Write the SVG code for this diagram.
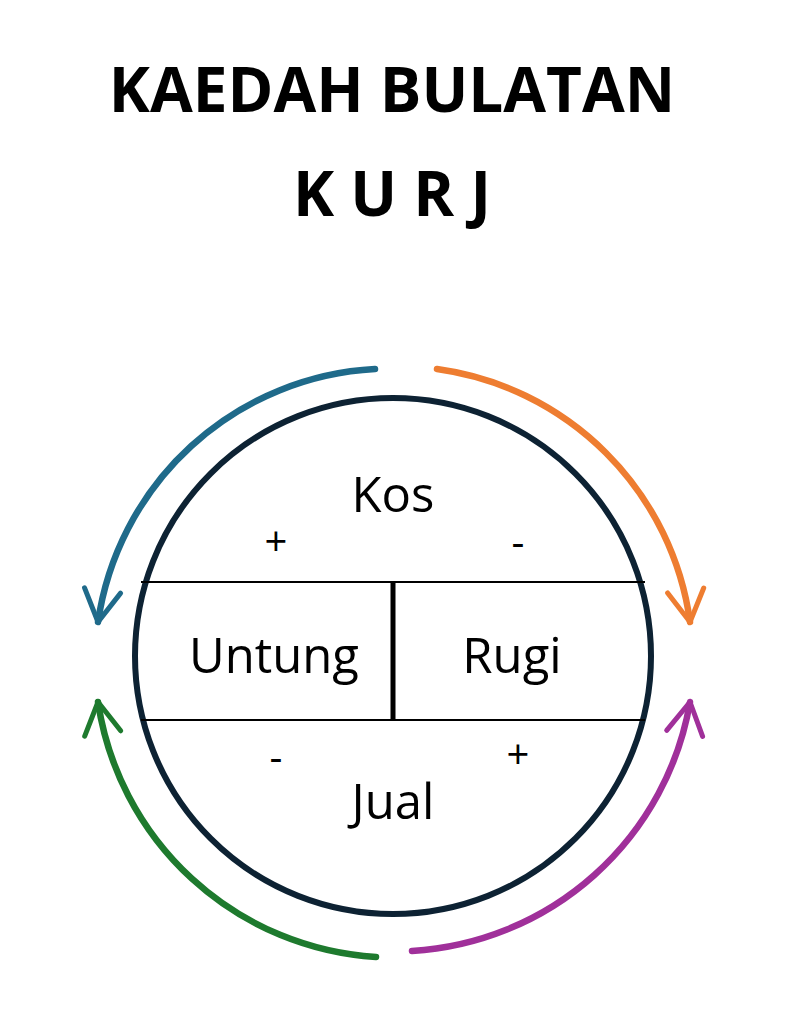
<svg xmlns="http://www.w3.org/2000/svg" width="787" height="1024" viewBox="0 0 787 1024">
<style>
.t{font-family:"Open Sans","Liberation Sans",sans-serif;fill:#000;text-anchor:middle}
.title{font-weight:bold;font-size:62px}
.lbl{font-size:49px}
.sg{font-size:40px}
.arc{fill:none;stroke-width:6.5;stroke-linecap:round}
</style>
<defs>
<marker id="mb" viewBox="0 0 10 10" refX="8" refY="5" markerWidth="7" markerHeight="7" orient="auto" markerUnits="strokeWidth"><path d="M1,1 L8,5 L1,9" fill="none" stroke="#1f6a8a" stroke-width="1.1" stroke-linecap="round" stroke-linejoin="round"/></marker>
<marker id="mo" viewBox="0 0 10 10" refX="8" refY="5" markerWidth="7" markerHeight="7" orient="auto" markerUnits="strokeWidth"><path d="M1,1 L8,5 L1,9" fill="none" stroke="#ee7d31" stroke-width="1.1" stroke-linecap="round" stroke-linejoin="round"/></marker>
<marker id="mg" viewBox="0 0 10 10" refX="8" refY="5" markerWidth="7" markerHeight="7" orient="auto" markerUnits="strokeWidth"><path d="M1,1 L8,5 L1,9" fill="none" stroke="#1e7a2e" stroke-width="1.1" stroke-linecap="round" stroke-linejoin="round"/></marker>
<marker id="mp" viewBox="0 0 10 10" refX="8" refY="5" markerWidth="7" markerHeight="7" orient="auto" markerUnits="strokeWidth"><path d="M1,1 L8,5 L1,9" fill="none" stroke="#a0309a" stroke-width="1.1" stroke-linecap="round" stroke-linejoin="round"/></marker>
</defs>
<rect width="787" height="1024" fill="#fff"/>
<g id="title">
<text class="t title" x="392" y="112">KAEDAH BULATAN</text>
<text class="t title" x="392" y="216">K U R J</text>
</g>
<g id="circle">
<circle cx="393" cy="656" r="258" fill="none" stroke="#0d2233" stroke-width="6"/>
<line x1="141" y1="582" x2="645" y2="582" stroke="#000" stroke-width="2"/>
<line x1="141" y1="720" x2="645" y2="720" stroke="#000" stroke-width="2"/>
<line x1="393" y1="582" x2="393" y2="720" stroke="#000" stroke-width="5"/>
</g>
<g id="kos"><text class="t lbl" x="393" y="512">Kos</text><text class="t sg" x="276" y="556">+</text><text class="t sg" x="518" y="556">-</text></g>
<g id="untung"><text class="t lbl" x="274" y="673">Untung</text></g>
<g id="rugi"><text class="t lbl" x="512" y="673">Rugi</text></g>
<g id="jual"><text class="t lbl" x="393" y="819">Jual</text><text class="t sg" x="276" y="771">-</text><text class="t sg" x="518" y="769">+</text></g>
<g id="connectors">
<path class="arc" stroke="#1f6a8a" d="M375,369 A296,296 0 0 0 98,622" marker-end="url(#mb)"/>
<path class="arc" stroke="#ee7d31" d="M437,369 A296,296 0 0 1 690,622" marker-end="url(#mo)"/>
<path class="arc" stroke="#1e7a2e" d="M376,957 A300,300 0 0 1 98,702" marker-end="url(#mg)"/>
<path class="arc" stroke="#a0309a" d="M412,951 A300,300 0 0 0 690,702" marker-end="url(#mp)"/>
</g>
</svg>
